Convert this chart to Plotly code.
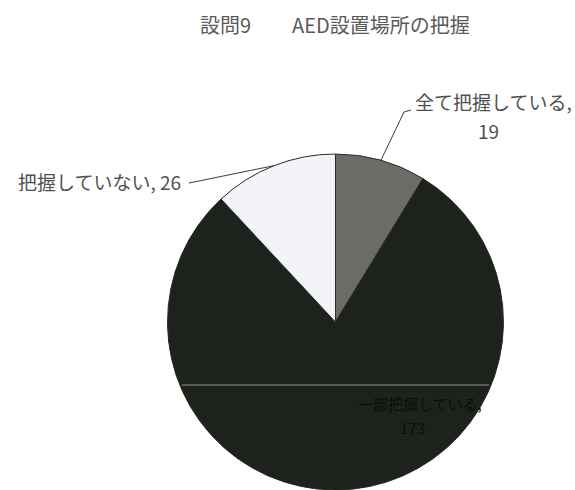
import math
import plotly.graph_objects as go

# Survey question 9: awareness of AED installation locations
labels = ["全て把握している", "一部把握している", "把握していない"]
counts = [19, 173, 26]
colors = ["#6b6c68", "#1d221d", "#f3f4f7"]
title_parts = ["設問9", "AED設置場所の把握"]

W, H = 575, 490
FONT = "Noto Sans CJK JP"
TXT = "#505050"

# pie placement (paper fractions)
dom_x = [0.2913, 0.8756]
dom_y = [0.0, 0.6857]

fig = go.Figure(go.Pie(
    labels=labels,
    values=counts,
    sort=False,
    direction="clockwise",
    rotation=0,
    marker=dict(colors=colors, line=dict(color="#2a2a2a", width=1)),
    textinfo="none",
    hoverinfo="label+value",
    domain=dict(x=dom_x, y=dom_y),
    showlegend=False,
))

# geometry in pixels, derived from the domain
cx = (dom_x[0] + dom_x[1]) / 2 * W
cy = (1 - (dom_y[0] + dom_y[1]) / 2) * H
r = min((dom_x[1] - dom_x[0]) * W, (dom_y[1] - dom_y[0]) * H) / 2

total = sum(counts)
cum = 0
mids = []
for v in counts:
    mids.append((cum + v / 2) / total * 2 * math.pi)
    cum += v


def edge(ang, rr=r):
    return cx + rr * math.sin(ang), cy - rr * math.cos(ang)


def px(x, y):
    return x / W, 1 - y / H


shapes = []
annotations = []


def seg(p0, p1, color="#3c3c3c", width=1):
    a, b = px(*p0)
    c, d = px(*p1)
    shapes.append(dict(type="line", xref="paper", yref="paper", x0=a, y0=b, x1=c, y1=d,
                       line=dict(color=color, width=width)))


def text(s, x, y, size=19, color=TXT, xanchor="center"):
    a, b = px(x, y)
    annotations.append(dict(text=s, x=a, y=b, xref="paper", yref="paper", showarrow=False,
                            xanchor=xanchor, yanchor="middle",
                            font=dict(family=FONT, size=size, color=color)))


# leader for the first slice: up to the right
ex, ey = edge(mids[0])
seg((ex, ey), (404, 112))
seg((404, 112), (411, 110))
text(f"{labels[0]},", 493, 101)
text(f"{counts[0]}", 488, 130)

# leader for the third slice: out to the left
ex, ey = edge(mids[2])
seg((ex, ey), (189, 183))
text(f"{labels[2]}, {counts[2]}", 183, 181, xanchor="right")

# label for the large slice, sitting inside it
text(f"{labels[1]},", 420, 403, size=15, color="#0b0e0b")
text(f"{counts[1]}", 412, 427, size=15, color="#0b0e0b")

# faint horizontal streak across the pie
sy = 385
half = math.sqrt(max(r * r - (sy - cy) ** 2, 0))
seg((cx - half + 2, sy), (cx + half - 2, sy), color="#6a705f", width=1.5)

# title
text(title_parts[0], 198, 25, size=20, color="#5a5a5a", xanchor="left")
text(title_parts[1], 290, 25, size=20, color="#5a5a5a", xanchor="left")

fig.update_layout(
    width=W, height=H,
    margin=dict(l=0, r=0, t=0, b=0),
    paper_bgcolor="white",
    plot_bgcolor="white",
    shapes=shapes,
    annotations=annotations,
)

fig.write_html("out.html")
